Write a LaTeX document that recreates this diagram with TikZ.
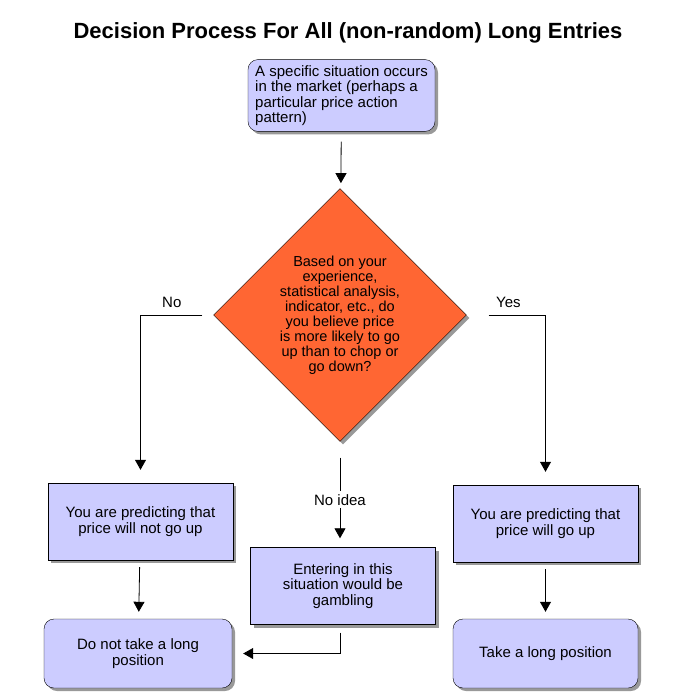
\documentclass[tikz,border=0pt]{standalone}
\usepackage{fontspec}
\setmainfont{Liberation Sans}
\usetikzlibrary{positioning}
\usetikzlibrary{shapes.geometric}
\usetikzlibrary{arrows.meta}
\usetikzlibrary{shadows}
\definecolor{boxfill}{HTML}{CCCCFF}
\definecolor{choicefill}{HTML}{FF6633}

\begin{document}
\begin{tikzpicture}
  [x=1pt, y=-1pt,
   font=\fontsize{15}{15.3}\selectfont,
   shade/.style={drop shadow={shadow xshift=3pt, shadow yshift=-3pt,
       opacity=0.4, fill=black}},
   box/.style={draw, fill=boxfill, align=center, minimum width=185pt,
       minimum height=77pt, inner sep=4pt, shade},
   endbox/.style={box, rounded corners=10pt, minimum height=69pt},
   choice/.style={draw, fill=choicefill, diamond, aspect=1,
       minimum width=253pt, minimum height=253pt, inner sep=0pt,
       align=center, font=\fontsize{14.5}{15}\selectfont, shade},
   flow/.style={-{Triangle[width=11pt, length=10pt]}, line width=0.8pt},
   lbl/.style={fill=white, inner sep=3pt},
  ]
  \useasboundingbox (0,0) rectangle (700,700);
  \node[font=\fontsize{22}{24}\selectfont\bfseries] (title) at (348,33)
    {Decision Process For All (non-random) Long Entries};
  \node[endbox, align=left, minimum width=187pt,
    minimum height=68pt, inner sep=6pt] (start) at (341.5,95.5)
    {A specific situation occurs\\in the market (perhaps a\\particular price action\\pattern)};
  \node[choice] (ask) at (340,315)
    {Based on your\\experience,\\statistical analysis,\\indicator, etc., do\\you believe price\\is more likely to go\\up than to chop or\\go down?};
  \node[box] (notup) at (140.5,521.5) {You are predicting that\\price will not go up};
  \node[box] (gamble) at (343,586) {Entering in this\\situation would be\\gambling};
  \node[box] (up) at (545.5,523.5) {You are predicting that\\price will go up};
  \node[endbox, minimum width=188pt] (nolong) at (138,653.5) {Do not take a long\\position};
  \node[endbox] (long) at (545.5,653.5) {Take a long position};

  \draw[flow, shorten <=10pt, shorten >=6pt] (start) -- (ask);
  \draw[flow, shorten <=11pt, shorten >=13pt] (ask.west) -| (notup.north)
    node[pos=0.285, above=4pt] (no) {No};
  \draw[flow, shorten <=22pt, shorten >=13pt] (ask.east) -| (up.north)
    node[pos=0.265, above=4pt] (yes) {Yes};
  \draw[flow, shorten <=16pt, shorten >=9pt] (ask.south) -- (ask.south |- gamble.north)
    node[lbl, pos=0.55] (noidea) {No idea};
  \draw[flow, shorten <=7pt, shorten >=7pt] (notup) -- (nolong);
  \draw[flow, shorten <=7pt, shorten >=7pt] (up) -- (long);
  \draw[flow, shorten <=8pt, shorten >=11pt] (gamble.south -| ask.south) |- (nolong.east);
\end{tikzpicture}
\end{document}
